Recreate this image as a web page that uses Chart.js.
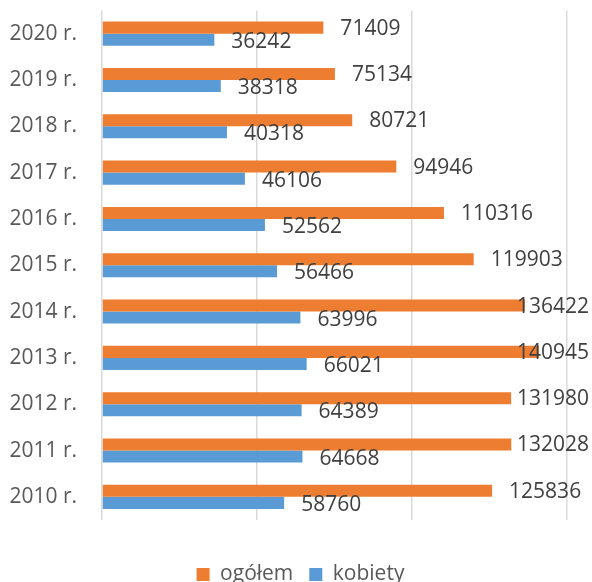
<!DOCTYPE html>
<html>
<head>
<meta charset="utf-8">
<script src="https://cdn.jsdelivr.net/npm/chart.js@4/dist/chart.umd.min.js"></script>
<style>
  html, body { margin: 0; padding: 0; background: #fff; }
  #wrap { width: 592px; height: 582px; }
</style>
</head>
<body>
<div id="wrap"><canvas id="chart" width="592" height="582"></canvas></div>
<script>
const years = ['2020 r.', '2019 r.', '2018 r.', '2017 r.', '2016 r.', '2015 r.',
  '2014 r.', '2013 r.', '2012 r.', '2011 r.', '2010 r.'];
const ogolem = [71409, 75134, 80721, 94946, 110316, 119903, 136422, 140945, 131980, 132028, 125836];
const kobiety = [36242, 38318, 40318, 46106, 52562, 56466, 63996, 66021, 64389, 64668, 58760];

const FONT = '"Open Sans", "Liberation Sans", sans-serif';

// value labels to the right of each bar, kept inside the canvas
const barLabels = {
  id: 'barLabels',
  afterLayout(chart) {
    // center the legend on the whole canvas, not on the padded area
    chart.legend.left += 17;
    chart.legend.right += 17;
  },
  afterDatasetsDraw(chart) {
    const ctx = chart.ctx;
    ctx.save();
    ctx.font = '21px ' + FONT;
    ctx.fillStyle = '#404040';
    ctx.textBaseline = 'middle';
    ctx.textAlign = 'left';
    chart.data.datasets.forEach((ds, i) => {
      const dy = i === 0 ? 1 : 2;
      chart.getDatasetMeta(i).data.forEach((bar, j) => {
        const text = String(ds.data[j]);
        const w = ctx.measureText(text).width;
        const x = Math.min(bar.x + 17, chart.width - w - 3);
        ctx.fillText(text, x, bar.y + dy);
      });
    });
    ctx.restore();
  }
};

new Chart(document.getElementById('chart'), {
  type: 'bar',
  data: {
    labels: years,
    datasets: [
      { label: 'ogółem', data: ogolem, backgroundColor: '#ED7D31' },
      { label: 'kobiety', data: kobiety, backgroundColor: '#5B9BD5' }
    ]
  },
  options: {
    indexAxis: 'y',
    responsive: false,
    animation: false,
    categoryPercentage: 0.52,
    barPercentage: 1,
    layout: { padding: { top: 10, right: 25, left: 0, bottom: -13 } },
    plugins: {
      tooltip: { enabled: false },
      legend: {
        position: 'bottom',
        labels: {
          color: '#595959',
          font: { family: FONT, size: 21 },
          boxWidth: 13,
          boxHeight: 13,
          padding: 16
        }
      }
    },
    scales: {
      x: {
        min: 0,
        max: 150000,
        ticks: { display: false, stepSize: 50000 },
        grid: { color: '#d9d9d9', lineWidth: 1.5, drawTicks: false },
        border: { display: false },
        afterFit(scale) { scale.height = 28; }
      },
      y: {
        ticks: { color: '#595959', font: { family: FONT, size: 21, lineHeight: 1 }, padding: 0 },
        grid: { display: false, drawTicks: true, tickLength: 25 },
        border: { display: false },
        afterFit(scale) { scale.width = 102; }
      }
    }
  },
  plugins: [barLabels]
});
</script>
</body>
</html>
